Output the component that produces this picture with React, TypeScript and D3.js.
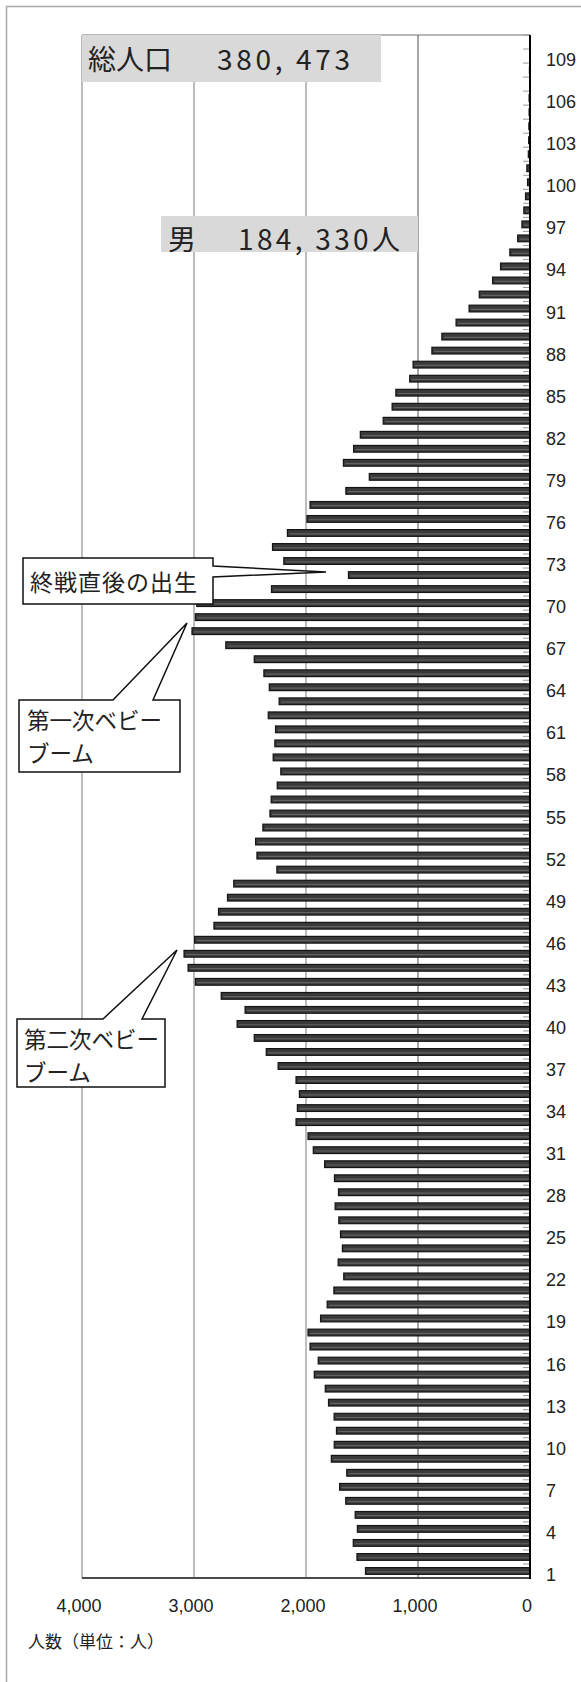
import React from "react";
import * as d3 from "d3";

const ages: number[] = d3.range(1, 111);
const male: number[] = [
  1469, 1545, 1578, 1541, 1561, 1645, 1700, 1636, 1774, 1748,
  1728, 1749, 1799, 1828, 1926, 1891, 1964, 1982, 1870, 1811,
  1751, 1663, 1713, 1675, 1692, 1707, 1740, 1710, 1746, 1834,
  1935, 1982, 2089, 2077, 2059, 2089, 2249, 2355, 2462, 2615,
  2544, 2757, 2988, 3053, 3089, 2994, 2822, 2781, 2701, 2645,
  2260, 2438, 2450, 2385, 2322, 2311, 2257, 2225, 2293, 2278,
  2272, 2337, 2240, 2328, 2376, 2462, 2716, 3018, 2988, 2975,
  2308, 1621, 2198, 2299, 2166, 1991, 1964, 1644, 1435, 1666,
  1575, 1515, 1311, 1231, 1198, 1074, 1044, 876, 787, 660,
  544, 453, 334, 263, 180, 110, 72, 55, 40, 22,
  28, 15, 12, 10, 8, 8, 3, 5, 3, 0,
];
const xTicks: number[] = [4000, 3000, 2000, 1000, 0];
const ageLabels: number[] = ages.filter((a) => (a - 1) % 3 === 0);
const totalLabel = "総人口";
const totalValue = "380, 473";
const maleLabel = "男";
const maleValue = "184, 330人";
const axisTitle = "人数（単位：人）";
const note1 = "終戦直後の出生";
const note2 = ["第一次ベビー", "ブーム"];
const note3 = ["第二次ベビー", "ブーム"];

const W = 581;
const H = 1682;
const left = 82;
const right = 530;
const top = 35;
const bottom = 1578;

const JP = "'Noto Sans CJK JP', 'Noto Sans', sans-serif";
const NUM = "'Liberation Sans', Arial, sans-serif";

export default function App() {
  const x = d3.scaleLinear().domain([0, 4000]).range([right, left]);
  const y = d3
    .scaleBand<number>()
    .domain(ages.slice().reverse())
    .range([top, bottom])
    .paddingInner(0.52)
    .paddingOuter(0.26);
  const step = y.step();
  const bw = y.bandwidth();
  const center = (a: number) => (y(a) as number) + bw / 2;
  const boundaries = d3.range(0, ages.length + 1).map((i) => top + i * step);

  return (
    <svg
      width={W}
      height={H}
      style={{ position: "absolute", left: 0, top: 0, display: "block", background: "#fff" }}
    >
      {/* outer frame */}
      <rect x={6.5} y={6.5} width={W + 20} height={H + 20} fill="none" stroke="#a8a8a8" strokeWidth={1.5} />

      {/* plot top border */}
      <line x1={left} x2={right} y1={top} y2={top} stroke="#a0a0a0" strokeWidth={1.5} />

      {/* grid lines */}
      {xTicks.filter((v) => v !== 0).map((v) => (
        <line
          key={"g" + v}
          x1={x(v)}
          x2={x(v)}
          y1={top}
          y2={bottom}
          stroke={v === 1000 ? "#505050" : "#a6a6a6"}
          strokeWidth={v === 1000 ? 1 : 1.5}
        />
      ))}

      {/* bars */}
      {ages.map((a, i) => {
        const v = male[i];
        if (v <= 0) return null;
        const x0 = x(v);
        const y0 = y(a) as number;
        const w = right - x0;
        return (
          <g key={"b" + a}>
            <rect x={x0} y={y0} width={w} height={bw} fill="#3a3a3a" stroke="#141414" strokeWidth={1.2} />
            {w > 4 && (
              <line
                x1={x0 + 2}
                x2={right - 1}
                y1={y0 + bw * 0.62}
                y2={y0 + bw * 0.62}
                stroke="#626262"
                strokeWidth={1.2}
              />
            )}
          </g>
        );
      })}

      {/* minor ticks */}
      {boundaries.map((b, i) => (
        <line key={"t" + i} x1={right - 7} x2={right} y1={b} y2={b} stroke="#9a9a9a" strokeWidth={1} />
      ))}

      {/* axes */}
      <line x1={left} x2={right} y1={bottom} y2={bottom} stroke="#4a4a4a" strokeWidth={2} />
      <line x1={right} x2={right} y1={top} y2={bottom + 1} stroke="#000" strokeWidth={2} />

      {/* age labels */}
      {ageLabels.map((a) => (
        <text
          key={"l" + a}
          x={546}
          y={center(a) + 4}
          dominantBaseline="central"
          fontFamily={NUM}
          fontSize={18}
          fill="#222"
        >
          {a}
        </text>
      ))}

      {/* x tick labels */}
      {xTicks.map((v) => (
        <text
          key={"x" + v}
          x={x(v) - 3}
          y={1606}
          dominantBaseline="central"
          textAnchor="middle"
          fontFamily={NUM}
          fontSize={18}
          fill="#222"
        >
          {d3.format(",")(v)}
        </text>
      ))}
      <text x={28} y={1640} dominantBaseline="central" fontFamily={JP} fontSize={17} fill="#222">
        {axisTitle}
      </text>

      {/* total population box */}
      <rect x={left} y={top} width={381 - left} height={47} fill="#d9d9d9" />
      <text x={88} y={58} dominantBaseline="central" fontFamily={JP} fontSize={28} fill="#222">
        {totalLabel}
      </text>
      <text
        x={217}
        y={58}
        dominantBaseline="central"
        fontFamily={JP}
        fontSize={28}
        fill="#222"
        textLength={133}
        lengthAdjust="spacing"
      >
        {totalValue}
      </text>

      {/* male box */}
      <rect x={161} y={216} width={x(1000) - 161} height={36} fill="#d9d9d9" />
      <text x={168} y={238} dominantBaseline="central" fontFamily={JP} fontSize={28} fill="#222">
        {maleLabel}
      </text>
      <text
        x={238}
        y={238}
        dominantBaseline="central"
        fontFamily={JP}
        fontSize={28}
        fill="#222"
        textLength={162}
        lengthAdjust="spacing"
      >
        {maleValue}
      </text>

      {/* callout 1 */}
      <path
        d="M23,558 H213 V566 L326,572 L213,577 V604 H23 Z"
        fill="#fff"
        stroke="#111"
        strokeWidth={1.5}
        strokeLinejoin="miter"
      />
      <text x={30} y={581} dominantBaseline="central" fontFamily={JP} fontSize={23} letterSpacing={1} fill="#222">
        {note1}
      </text>

      {/* callout 2 */}
      <path
        d="M19,700 H113 L187,623 L153,700 H180 V772 H19 Z"
        fill="#fff"
        stroke="#111"
        strokeWidth={1.5}
      />
      {note2.map((t, i) => (
        <text
          key={"n2" + i}
          x={27}
          y={719 + i * 33}
          dominantBaseline="central"
          fontFamily={JP}
          fontSize={22.5}
          fill="#222"
        >
          {t}
        </text>
      ))}

      {/* callout 3 */}
      <path
        d="M17,1019 H103 L177,950 L142,1019 H165 V1087 H17 Z"
        fill="#fff"
        stroke="#111"
        strokeWidth={1.5}
      />
      {note3.map((t, i) => (
        <text
          key={"n3" + i}
          x={24}
          y={1038 + i * 33}
          dominantBaseline="central"
          fontFamily={JP}
          fontSize={22.5}
          fill="#222"
        >
          {t}
        </text>
      ))}
    </svg>
  );
}
